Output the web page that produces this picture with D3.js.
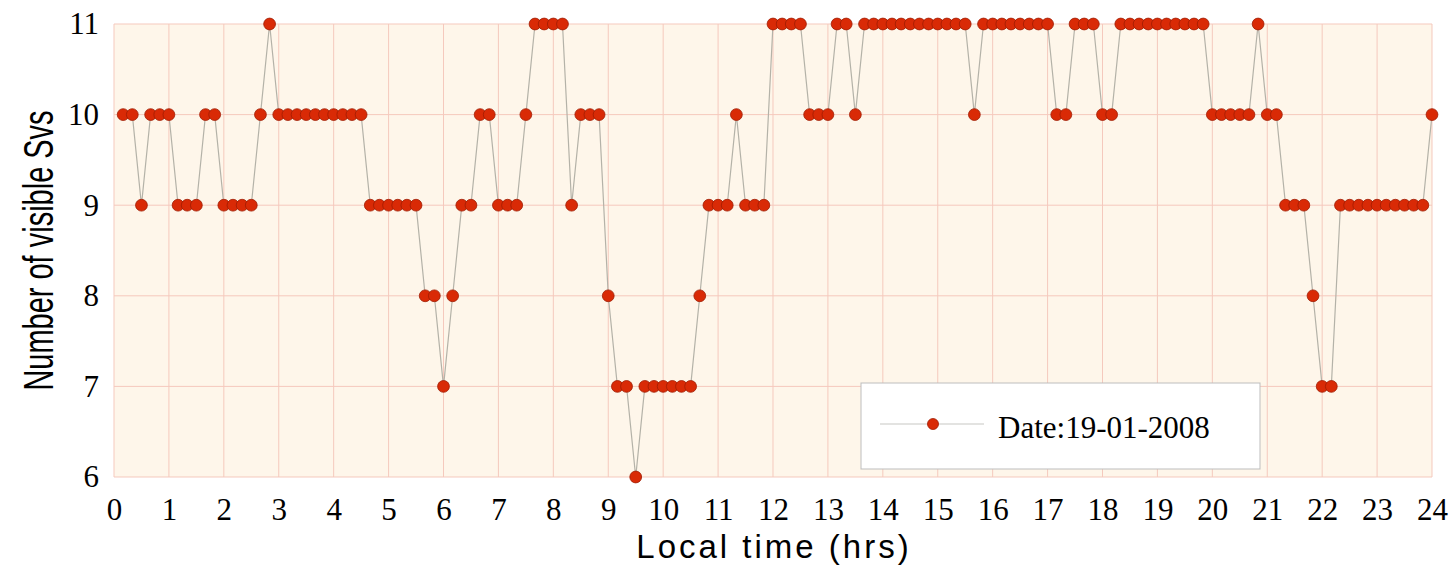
<!DOCTYPE html>
<html>
<head>
<meta charset="utf-8">
<script src="https://cdn.jsdelivr.net/npm/d3@7"></script>
<style>
  html, body { margin: 0; padding: 0; background: #ffffff; }
  svg { display: block; }
</style>
</head>
<body>
<div id="chart"></div>
<script>
"use strict";

// visible satellites, one reading every 10 minutes from 00:10 to 24:00
var sampleStepMin = 10;
var visibleSvs = [
  10,10,9,10,10,10,   9,9,9,10,10,9,      9,9,9,10,11,10,
  10,10,10,10,10,10,  10,10,10,9,9,9,     9,9,9,8,8,7,
  8,9,9,10,10,9,      9,9,10,11,11,11,    11,9,10,10,10,8,
  7,7,6,7,7,7,        7,7,7,8,9,9,        9,10,9,9,9,11,
  11,11,11,10,10,10,  11,11,10,11,11,11,  11,11,11,11,11,11,
  11,11,11,10,11,11,  11,11,11,11,11,11,  10,10,11,11,11,10,
  10,11,11,11,11,11,  11,11,11,11,11,10,  10,10,10,10,11,10,
  10,9,9,9,8,7,       7,9,9,9,9,9,        9,9,9,9,9,10
];
var xTicks = d3.range(0, 25);
var yTicks = [6, 7, 8, 9, 10, 11];
var legendLabel = "Date:19-01-2008";
var xTitle = "Local time (hrs)";
var yTitle = "Number of visible Svs";

var points = visibleSvs.map(function(v, i) {
  return { t: (i + 1) * sampleStepMin / 60, v: v };
});

// layout
var width = 1453, height = 571;
var margin = { top: 24, right: 21, bottom: 94, left: 114 };
var w = width - margin.left - margin.right;
var h = height - margin.top - margin.bottom;

var x = d3.scaleLinear().domain([0, 24]).range([0, w]);
var y = d3.scaleLinear().domain([6, 11]).range([h, 0]);

var svg = d3.select("#chart").append("svg")
    .attr("width", width)
    .attr("height", height);

var g = svg.append("g")
    .attr("transform", "translate(" + margin.left + "," + margin.top + ")");

// plot background
g.append("rect")
    .attr("width", w)
    .attr("height", h)
    .attr("fill", "#fef6ea");

// grid
var gridColor = "#f5c9bd";
g.append("g").selectAll("line").data(xTicks)
  .join("line")
    .attr("x1", d => x(d)).attr("x2", d => x(d))
    .attr("y1", 0).attr("y2", h)
    .attr("stroke", gridColor).attr("stroke-width", 1);
g.append("g").selectAll("line").data(yTicks)
  .join("line")
    .attr("x1", 0).attr("x2", w)
    .attr("y1", d => y(d)).attr("y2", d => y(d))
    .attr("stroke", gridColor).attr("stroke-width", 1);

// axes (labels only, the grid acts as frame)
var xAxis = d3.axisBottom(x).tickValues(xTicks).tickFormat(d3.format("d"))
    .tickSize(0).tickPadding(21);
var yAxis = d3.axisLeft(y).tickValues(yTicks).tickFormat(d3.format("d"))
    .tickSize(0).tickPadding(15);

var gx = g.append("g").attr("transform", "translate(0," + h + ")").call(xAxis);
var gy = g.append("g").call(yAxis);
[gx, gy].forEach(function(a) {
  a.select(".domain").remove();
  a.selectAll("text")
    .attr("fill", "#000")
    .style("font-family", "'Liberation Serif', 'Times New Roman', serif")
    .style("font-size", "31px");
});
gx.selectAll("text").attr("dy", "0.71em");

// line + markers
var line = d3.line()
    .x(d => x(d.t))
    .y(d => y(d.v));

g.append("path")
    .datum(points)
    .attr("d", line)
    .attr("fill", "none")
    .attr("stroke", "#b4b2a8")
    .attr("stroke-width", 1.2);

g.append("g").selectAll("circle").data(points)
  .join("circle")
    .attr("cx", d => x(d.t))
    .attr("cy", d => y(d.v))
    .attr("r", 5.9)
    .attr("fill", "#d92a06")
    .attr("stroke", "#9e1c02")
    .attr("stroke-width", 0.8);

// legend
var legend = svg.append("g").attr("transform", "translate(861,383)");
legend.append("rect")
    .attr("width", 399).attr("height", 86)
    .attr("fill", "#ffffff")
    .attr("stroke", "#bdbdbd").attr("stroke-width", 1);
legend.append("line")
    .attr("x1", 19).attr("x2", 123)
    .attr("y1", 41).attr("y2", 41)
    .attr("stroke", "#c8c8c4").attr("stroke-width", 1.2);
legend.append("circle")
    .attr("cx", 72).attr("cy", 41).attr("r", 5.5)
    .attr("fill", "#d92a06").attr("stroke", "#9e1c02").attr("stroke-width", 0.8);
legend.append("text")
    .attr("x", 137).attr("y", 55)
    .style("font-family", "'Liberation Serif', 'Times New Roman', serif")
    .style("font-size", "31px")
    .text(legendLabel);

// axis titles
svg.append("text")
    .attr("x", margin.left + w / 2 + 1)
    .attr("y", 558)
    .attr("text-anchor", "middle")
    .style("font-family", "'Liberation Sans', Arial, sans-serif")
    .style("font-size", "33px")
    .style("letter-spacing", "3px")
    .text(xTitle);

svg.append("text")
    .attr("transform", "translate(53," + (margin.top + h / 2) + ") rotate(-90) scale(0.69,1)")
    .attr("text-anchor", "middle")
    .style("font-family", "'Liberation Sans', Arial, sans-serif")
    .style("font-size", "42px")
    .text(yTitle);
</script>
</body>
</html>
